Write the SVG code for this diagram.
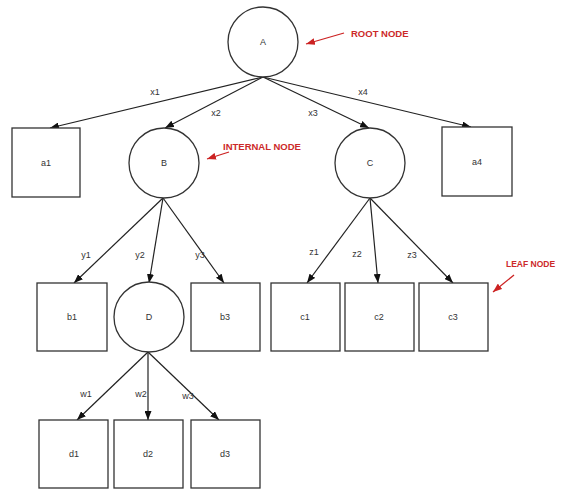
<svg xmlns="http://www.w3.org/2000/svg" width="562" height="489" viewBox="0 0 562 489">
<style>
.n{fill:#fff;stroke:#333;stroke-width:1.3}
.t{font-family:"Liberation Sans",Arial,sans-serif;font-size:9px;fill:#333;text-anchor:middle;dominant-baseline:central}
.e{stroke:#222;stroke-width:1.2;fill:none;marker-end:url(#ah)}
.r{stroke:#cc2222;stroke-width:1.3;fill:none;marker-end:url(#rh)}
.rt{font-family:"Liberation Sans",Arial,sans-serif;font-size:9.5px;font-weight:bold;fill:#cc2a2a;dominant-baseline:central}
</style>
<defs>
<marker id="ah" markerUnits="userSpaceOnUse" markerWidth="9" markerHeight="7" refX="9" refY="3.5" orient="auto"><path d="M0,0 L9,3.5 L0,7 z" fill="#111"/></marker>
<marker id="rh" markerUnits="userSpaceOnUse" markerWidth="9" markerHeight="7" refX="9" refY="3.5" orient="auto"><path d="M0,0 L9,3.5 L0,7 z" fill="#cc2222"/></marker>
</defs>
<rect width="562" height="489" fill="#fff"/>
<g id="connectors">
<line class="e" x1="263" y1="77" x2="50" y2="128"/>
<line class="e" x1="263" y1="77" x2="165" y2="128"/>
<line class="e" x1="263" y1="77" x2="369" y2="128"/>
<line class="e" x1="263" y1="77" x2="471" y2="127"/>
<line class="e" x1="163" y1="198" x2="74" y2="283"/>
<line class="e" x1="163" y1="198" x2="149" y2="283"/>
<line class="e" x1="163" y1="198" x2="224" y2="283"/>
<line class="e" x1="370" y1="198" x2="307" y2="283"/>
<line class="e" x1="370" y1="198" x2="378" y2="283"/>
<line class="e" x1="370" y1="198" x2="453" y2="283"/>
<line class="e" x1="148" y1="352" x2="77" y2="420"/>
<line class="e" x1="148" y1="352" x2="148" y2="420"/>
<line class="e" x1="148" y1="352" x2="219" y2="420"/>
<text class="t" x="155" y="92">x1</text>
<text class="t" x="216" y="113">x2</text>
<text class="t" x="313" y="113">x3</text>
<text class="t" x="363" y="92">x4</text>
<text class="t" x="86" y="255">y1</text>
<text class="t" x="140" y="255">y2</text>
<text class="t" x="200" y="255">y3</text>
<text class="t" x="314" y="252">z1</text>
<text class="t" x="357" y="254">z2</text>
<text class="t" x="412" y="255">z3</text>
<text class="t" x="86" y="394">w1</text>
<text class="t" x="141" y="394">w2</text>
<text class="t" x="188" y="396">w3</text>
</g>
<g id="A"><circle class="n" cx="263" cy="42" r="35"/><text class="t" x="263" y="42">A</text></g>
<g id="a1"><rect class="n" x="12" y="128" width="68" height="69"/><text class="t" x="46" y="163">a1</text></g>
<g id="B"><circle class="n" cx="164" cy="163" r="35"/><text class="t" x="164" y="163">B</text></g>
<g id="C"><circle class="n" cx="370" cy="163" r="35"/><text class="t" x="370" y="163">C</text></g>
<g id="a4"><rect class="n" x="442" y="127" width="70" height="69"/><text class="t" x="477" y="162">a4</text></g>
<g id="b1"><rect class="n" x="37" y="283" width="70" height="68"/><text class="t" x="72" y="317">b1</text></g>
<g id="D"><circle class="n" cx="149" cy="317" r="35"/><text class="t" x="149" y="317">D</text></g>
<g id="b3"><rect class="n" x="191" y="283" width="69" height="68"/><text class="t" x="225" y="317">b3</text></g>
<g id="c1"><rect class="n" x="271" y="283" width="69" height="68"/><text class="t" x="305" y="317">c1</text></g>
<g id="c2"><rect class="n" x="345" y="283" width="69" height="68"/><text class="t" x="379" y="317">c2</text></g>
<g id="c3"><rect class="n" x="419" y="283" width="69" height="68"/><text class="t" x="453" y="317">c3</text></g>
<g id="d1"><rect class="n" x="39" y="420" width="69" height="68"/><text class="t" x="74" y="454">d1</text></g>
<g id="d2"><rect class="n" x="114" y="420" width="69" height="68"/><text class="t" x="148" y="454">d2</text></g>
<g id="d3"><rect class="n" x="191" y="420" width="69" height="68"/><text class="t" x="225" y="454">d3</text></g>
<g id="annotations">
<text class="rt" x="351" y="33">ROOT NODE</text>
<line class="r" x1="344" y1="33" x2="306" y2="44"/>
<text class="rt" x="223" y="146">INTERNAL NODE</text>
<line class="r" x1="229" y1="152" x2="207" y2="159"/>
<text class="rt" x="506" y="264" style="font-size:8.5px">LEAF NODE</text>
<line class="r" x1="514" y1="275" x2="493" y2="292"/>
</g>
</svg>
